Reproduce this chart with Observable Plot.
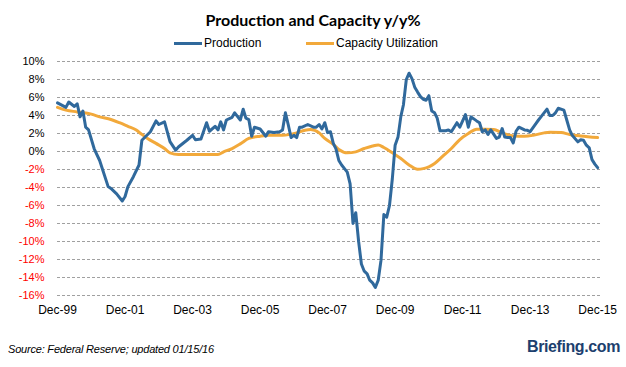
<!DOCTYPE html>
<html>
<head>
<meta charset="utf-8">
<script src="https://cdn.jsdelivr.net/npm/d3@7"></script>
<script src="https://cdn.jsdelivr.net/npm/@observablehq/plot@0.6"></script>
<style>
  body { margin: 0; background: #fff; }
  #wrap { width: 626px; height: 367px; position: relative; overflow: hidden; font-family: "Liberation Sans", Arial, sans-serif; }
  #title { position: absolute; left: 0; width: 626px; top: 11px; text-align: center; font: bold 16px Lato, "Liberation Sans", sans-serif; line-height: 18px; color: #000; }
  .leg { position: absolute; top: 35px; height: 16px; line-height: 16px; font-size: 12px; color: #000; }
  .sw { position: absolute; top: 42px; height: 3px; }
  #chart { position: absolute; left: 0; top: 54px; }
  #source { position: absolute; left: 8px; top: 343px; font: italic 11px "Liberation Sans", Arial, sans-serif; color: #000; letter-spacing: -0.2px; }
  #brand { position: absolute; right: 6px; top: 338px; font: bold 16px "Liberation Sans", Arial, sans-serif; color: #1d3f6e; letter-spacing: -0.4px; }
</style>
</head>
<body>
<div id="wrap">
  <div id="title">Production and Capacity y/y%</div>
  <div class="sw" style="left:174px;width:28px;background:#30699c"></div>
  <div class="leg" style="left:204px">Production</div>
  <div class="sw" style="left:306px;width:28px;background:#f2a93b"></div>
  <div class="leg" style="left:336px">Capacity Utilization</div>
  <div id="chart"></div>
  <div id="source">Source: Federal Reserve; updated 01/15/16</div>
  <div id="brand">Briefing.com</div>
</div>
<script>
// Months counted from Dec-1999
const prodMonths = [0,3,4,6,7,8,9,10,11,13,15,18,19,21,23,24,25,27,29,30,33,35,36,38,40,42,43,46,48,49,51,53,54,56,57,58,59,60,62,63,65,66,67,68,69,70,72,74,75,77,79,80,81,82,83,84,85,86,87,89,91,92,93,94,95,96,97,98,99,100,101,102,103,104,105,106,107,108,109,110,111,112,113,114,115,116,117,118,119,120,121,122,123,124,125,126,127,128,129,130,131,132,133,134,135,136,138,139,140,142,143,145,146,147,149,150,151,152,153,154,156,157,158,159,160,161,162,163,164,166,167,168,170,171,172,174,175,176,177,178,180,181,182,183,185,186,187,188,189,190,191,192];
const prodValues = [5.4,4.9,5.5,5.0,5.3,3.85,4.5,2.7,2.4,0.3,-1.0,-3.9,-4.1,-4.7,-5.5,-5.0,-3.9,-2.8,-1.5,1.25,2.2,3.4,3.0,3.3,1.1,0.15,0.5,1.25,1.8,1.3,1.4,3.2,2.25,2.8,2.4,3.3,2.4,3.5,3.8,4.3,3.5,4.7,3.7,3.55,1.7,2.7,2.5,1.7,2.2,2.1,2.2,2.4,4.3,3.0,1.55,1.8,1.55,2.7,2.7,3.0,2.7,2.7,3.0,2.5,3.2,2.1,2.2,0.9,0.3,-1.0,-1.5,-1.9,-2.3,-3.6,-8.0,-6.8,-10.0,-12.5,-13.3,-13.6,-14.3,-14.6,-15.1,-14.3,-12.1,-7.0,-7.3,-6.0,-3.0,0.7,1.6,3.9,5.2,8.0,8.7,8.1,7.15,6.6,6.1,5.8,5.7,6.2,4.5,4.3,3.7,2.3,2.3,2.4,2.2,3.2,2.7,4.1,2.7,3.85,3.4,3.2,2.2,2.4,1.9,2.4,1.45,1.6,2.55,1.6,1.55,1.55,0.95,2.25,2.7,2.4,2.35,2.2,3.1,3.5,3.9,4.7,4.0,4.0,4.3,4.8,4.6,3.5,2.4,1.8,1.07,1.3,1.25,0.7,0.4,-0.9,-1.4,-1.8];

const capMonths = [0,3,7,12,15,19,22,25,28,30,32,35,38,40,43,57,59,62,65,68,72,75,80,85,88,90,93,95,98,100,103,106,109,112,114,116,119,122,125,128,130,132,134,137,140,143,146,149,152,155,158,162,166,169,173,175,179,182,186,192];
const capValues = [4.9,4.6,4.4,4.15,3.85,3.55,3.2,2.8,2.4,1.9,1.45,0.9,0.33,-0.15,-0.33,-0.33,-0.04,0.33,0.85,1.45,1.7,1.8,1.8,2.07,2.37,2.44,2.07,1.45,0.8,0.22,-0.15,-0.04,0.33,0.62,0.73,0.44,-0.15,-0.78,-1.5,-1.97,-1.9,-1.7,-1.33,-0.52,0.33,1.33,2.0,2.48,2.48,2.44,2.07,1.73,1.7,1.8,2.07,2.14,2.1,1.9,1.73,1.55];

const yTicks = [10,8,6,4,2,0,-2,-4,-6,-8,-10,-12,-14,-16];
const xTickMonths = [0,24,48,72,96,120,144,168,192];

const start = new Date(Date.UTC(1999, 11, 1));
const toDate = m => d3.utcMonth.offset(start, m);
const prod = prodMonths.map((m, i) => ({date: toDate(m), value: prodValues[i]}));
const cap = capMonths.map((m, i) => ({date: toDate(m), value: capValues[i]}));

const chart = Plot.plot({
  width: 626,
  height: 270,
  marginTop: 7,
  marginBottom: 29,
  marginLeft: 57,
  marginRight: 26,
  x: {type: "utc", domain: [start, toDate(193)], label: null},
  y: {domain: [-16, 10], label: null},
  style: {fontFamily: "'Liberation Sans', Arial, sans-serif", fontSize: "12px", background: "#fff", color: "#000"},
  marks: [
    Plot.ruleY(yTicks, {stroke: "#a0a0a0", strokeDasharray: "3,2", strokeWidth: 1}),
    Plot.axisY(yTicks.filter(d => d >= 0), {tickSize: 0, tickPadding: 13, tickFormat: d => d + "%", color: "#000", fontSize: 11, label: null}),
    Plot.axisY(yTicks.filter(d => d < 0), {tickSize: 0, tickPadding: 13, tickFormat: d => d + "%", color: "#ff0000", fontSize: 11, label: null}),
    Plot.axisX(xTickMonths.map(toDate), {tickSize: 0, tickPadding: 10, tickFormat: d3.utcFormat("%b-%y"), fontSize: 12, label: null}),
    Plot.line(cap, {x: "date", y: "value", stroke: "#f2a93b", strokeWidth: 3, curve: "monotone-x"}),
    Plot.line(prod, {x: "date", y: "value", stroke: "#30699c", strokeWidth: 3, strokeLinejoin: "round"})
  ]
});
document.getElementById("chart").appendChild(chart);
</script>
</body>
</html>
